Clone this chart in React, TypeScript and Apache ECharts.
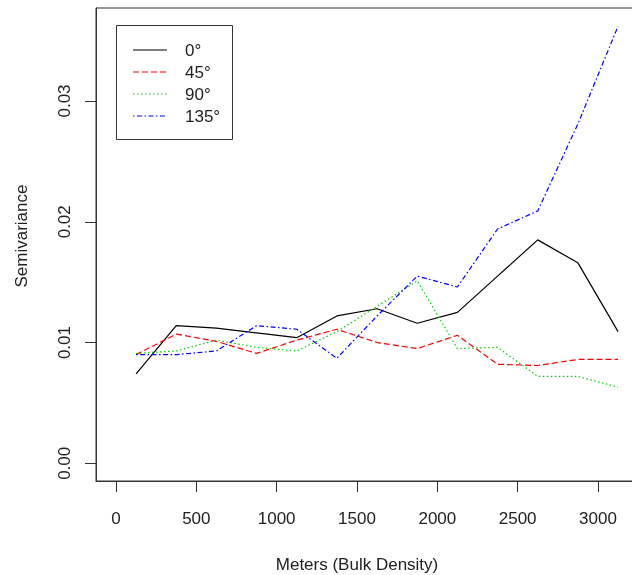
import React, { useEffect, useRef } from "react";
import * as echarts from "echarts";

const lags = [125, 375, 625, 875, 1125, 1375, 1625, 1875, 2125, 2375, 2625, 2875, 3125];
const gamma0 = [0.0074, 0.0114, 0.0112, 0.0108, 0.0104, 0.0122, 0.0128, 0.0116, 0.0125, 0.0155, 0.0185, 0.0166, 0.0109];
const gamma45 = [0.0090, 0.0107, 0.0101, 0.0091, 0.0102, 0.0111, 0.0100, 0.0095, 0.0106, 0.0082, 0.0081, 0.0086, 0.0086];
const gamma90 = [0.0091, 0.0093, 0.0102, 0.0096, 0.0093, 0.0109, 0.0130, 0.0151, 0.0095, 0.0096, 0.0072, 0.0072, 0.0063];
const gamma135 = [0.0090, 0.0090, 0.0093, 0.0114, 0.0111, 0.0087, 0.0122, 0.0155, 0.0146, 0.0194, 0.0209, 0.0281, 0.0362];

const seriesNames = ["0°", "45°", "90°", "135°"];
const xTicks = [0, 500, 1000, 1500, 2000, 2500, 3000];
const yTicks = [0, 0.01, 0.02, 0.03];

const colors = ["#000000", "#FF0000", "#00CD00", "#0000FF"];
const dashes: any[] = ["solid", [6, 3], [1.5, 2.5], [1.5, 2.5, 5, 2.5]];
const FONT = "'Liberation Sans', Arial, sans-serif";
const TXT = "#222";
const FS = 17;

export default function App() {
  const ref = useRef<HTMLDivElement>(null);
  useEffect(() => {
    if (!ref.current) return;
    const chart = echarts.init(ref.current, undefined, { renderer: "svg" });
    const allData = [gamma0, gamma45, gamma90, gamma135];
    const legendX = 133;
    const legendRows = [50, 72, 94, 116];
    const graphic: any[] = [
      {
        type: "rect",
        shape: { x: 116.5, y: 25.5, width: 116, height: 114 },
        style: { fill: "#fff", stroke: "#333", lineWidth: 1 },
        z: 100,
      },
      {
        type: "text",
        x: 357,
        y: 564,
        style: { text: "Meters (Bulk Density)", font: `${FS}px ${FONT}`, fill: TXT, textAlign: "center", textVerticalAlign: "middle" },
      },
      {
        type: "text",
        x: 21,
        y: 236,
        rotation: Math.PI / 2,
        style: { text: "Semivariance", font: `${FS}px ${FONT}`, fill: TXT, textAlign: "center", textVerticalAlign: "middle" },
      },
    ];
    seriesNames.forEach((n, i) => {
      graphic.push({
        type: "line",
        shape: { x1: legendX, y1: legendRows[i], x2: legendX + 34, y2: legendRows[i] },
        style: { stroke: colors[i], lineWidth: 1.2, lineDash: dashes[i] === "solid" ? null : dashes[i] },
        z: 101,
      });
      graphic.push({
        type: "text",
        x: 185,
        y: legendRows[i],
        style: { text: n, font: `${FS}px ${FONT}`, fill: TXT, textAlign: "left", textVerticalAlign: "middle" },
        z: 101,
      });
    });

    const pxPerX = (598 - 116) / 3000;
    const gridLeft = 96;
    const gridWidth = 544;
    const xMin = -(116 - gridLeft) / pxPerX;
    const xMax = xMin + gridWidth / pxPerX;
    const pxPerY = (463.3 - 101) / 0.03;
    const gridTop = 8;
    const gridBottomPx = 481;
    const yMax = (463.3 - gridTop) / pxPerY;
    const yMin = -(gridBottomPx - 463.3) / pxPerY;

    chart.setOption({
      animation: false,
      grid: {
        left: gridLeft,
        top: gridTop,
        width: gridWidth,
        height: gridBottomPx - gridTop,
        show: true,
        borderColor: "#333",
        borderWidth: 1,
        backgroundColor: "transparent",
      },
      xAxis: {
        type: "value",
        min: xMin,
        max: xMax,
        splitLine: { show: false },
        axisLine: { show: true, onZero: false, lineStyle: { color: "#333", width: 1 } },
        axisTick: { show: true, length: 11, customValues: xTicks, lineStyle: { color: "#333" } },
        axisLabel: {
          customValues: xTicks,
          formatter: (v: number) => String(Math.round(v)),
          color: TXT,
          fontSize: FS,
          fontFamily: FONT,
          margin: 29,
        },
      },
      yAxis: {
        type: "value",
        min: yMin,
        max: yMax,
        splitLine: { show: false },
        axisLine: { show: true, onZero: false, lineStyle: { color: "#333", width: 1 } },
        axisTick: { show: true, length: 11, customValues: yTicks, lineStyle: { color: "#333" } },
        axisLabel: {
          customValues: yTicks,
          formatter: (v: number) => v.toFixed(2),
          rotate: 90,
          color: TXT,
          fontSize: FS,
          fontFamily: FONT,
          margin: 23,
        },
      },
      series: seriesNames.map((n, i) => ({
        name: n,
        type: "line",
        data: lags.map((x, j) => [x, allData[i][j]]),
        symbol: "none",
        lineStyle: { color: colors[i], width: 1.2, type: dashes[i] },
        itemStyle: { color: colors[i] },
      })),
      graphic,
    });
    return () => chart.dispose();
  }, []);
  return (
    <div style={{ position: "fixed", left: 0, top: 0, width: 632, height: 575, overflow: "hidden" }}>
      <div ref={ref} style={{ width: 680, height: 575 }} />
    </div>
  );
}
